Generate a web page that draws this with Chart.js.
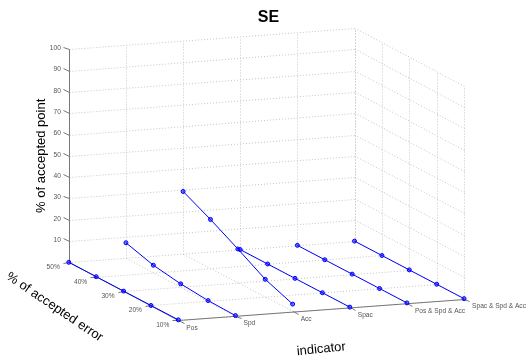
<!DOCTYPE html>
<html>
<head>
<meta charset="utf-8">
<script src="https://cdn.jsdelivr.net/npm/chart.js@4"></script>
<style>
  html, body { margin: 0; padding: 0; background: #fff; overflow: hidden; }
  canvas { display: block; }
</style>
</head>
<body>
<canvas id="myChart" width="529" height="360"></canvas>
<script>
// categories on the two floor axes, z ticks
const indicators = ['Pos', 'Spd', 'Acc', 'Spac', 'Pos & Spd & Acc', 'Spac & Spd & Acc'];
const errorLevels = [10, 20, 30, 40, 50];
const errorLabels = ['10%', '20%', '30%', '40%', '50%'];
const zTicks = [10, 20, 30, 40, 50, 60, 70, 80, 90, 100];

// % of accepted point, one value per error level (10% .. 50%)
const posVals = [0, 0, 0, 0, 0];
const spdVals = [0, 0.3, 1.4, 3.4, 7.2];
const accVals = [3.4, 8.3, 15.8, 22.9, 29.3];
const spacVals = [0, 0, 0, 0, 0];
const psaVals = [0, 0, 0, 0, 0];
const ssaVals = [0, 0, 0, 0, 0];
const seriesVals = [posVals, spdVals, accVals, spacVals, psaVals, ssaVals];

// view like matlab view(az, el), orthographic
const AZ = -20.6 * Math.PI / 180;
const EL = 11.45 * Math.PI / 180;
const BOX = [1, 1.02, 0.716];

function proj(i, e, z) {
  const X = i / (indicators.length - 1) * BOX[0];
  const Y = (e - 10) / 40 * BOX[1];
  const Z = z / 100 * BOX[2];
  return {
    x: Math.cos(AZ) * X + Math.sin(AZ) * Y,
    y: -Math.sin(EL) * Math.sin(AZ) * X + Math.sin(EL) * Math.cos(AZ) * Y + Math.cos(EL) * Z
  };
}

// px per box unit, where the (Pos, 10%, 0) corner sits, and the chart area
const K = 308.2;
const ORIGIN = [180, 324.3];
const AREA = { left: 8, right: 529, top: 31.2, bottom: 360 };

const axes3d = {
  id: 'axes3d',
  beforeDatasetsDraw(chart) {
    const ctx = chart.ctx, sx = chart.scales.x, sy = chart.scales.y;
    const P = (i, e, z) => {
      const q = proj(i, e, z);
      return [sx.getPixelForValue(q.x), sy.getPixelForValue(q.y)];
    };
    const line = (a, b) => {
      ctx.beginPath();
      ctx.moveTo(Math.round(a[0]) + 0.5, Math.round(a[1]) + 0.5);
      ctx.lineTo(Math.round(b[0]) + 0.5, Math.round(b[1]) + 0.5);
      ctx.stroke();
    };
    const tick = (a, toward, len) => {
      const dx = toward[0] - a[0], dy = toward[1] - a[1], n = Math.hypot(dx, dy);
      line(a, [a[0] + dx / n * len, a[1] + dy / n * len]);
    };
    const last = indicators.length - 1, eMin = 10, eMax = 50;

    ctx.save();
    // dotted grid: back wall, right wall, floor
    ctx.strokeStyle = '#c4c4c4';
    ctx.lineWidth = 1;
    ctx.setLineDash([1, 2]);
    indicators.forEach((_, i) => line(P(i, eMax, 0), P(i, eMax, 100)));
    zTicks.forEach(z => line(P(0, eMax, z), P(last, eMax, z)));
    errorLevels.forEach(e => line(P(last, e, 0), P(last, e, 100)));
    zTicks.forEach(z => line(P(last, eMin, z), P(last, eMax, z)));
    indicators.forEach((_, i) => line(P(i, eMin, 0), P(i, eMax, 0)));
    errorLevels.forEach(e => line(P(0, e, 0), P(last, e, 0)));

    // axis lines + ticks
    ctx.setLineDash([]);
    ctx.strokeStyle = '#777';
    line(P(0, eMax, 0), P(0, eMax, 100));
    line(P(0, eMin, 0), P(last, eMin, 0));
    line(P(0, eMin, 0), P(0, eMax, 0));
    zTicks.forEach(z => tick(P(0, eMax, z), P(0, eMax + 10, z), 6));
    errorLevels.forEach(e => tick(P(0, e, 0), P(-1, e, 0), 6));
    indicators.forEach((_, i) => tick(P(i, eMin, 0), P(i, 0, 0), 6));

    // tick labels
    ctx.fillStyle = '#555';
    ctx.font = '6.6px "Liberation Sans", Arial, sans-serif';
    ctx.textBaseline = 'middle';
    ctx.textAlign = 'right';
    zTicks.forEach(z => {
      const a = P(0, eMax, z);
      ctx.fillText(String(z), a[0] - 8, a[1] - 1);
    });
    errorLevels.forEach((e, j) => {
      const a = P(0, e, 0);
      ctx.fillText(errorLabels[j], a[0] - 9, a[1] + 5);
    });
    ctx.textAlign = 'left';
    indicators.forEach((name, i) => {
      const a = P(i, eMin, 0);
      ctx.fillText(name, a[0] + 8, a[1] + 8);
    });

    // axis titles
    ctx.fillStyle = '#000';
    ctx.font = '13px "Liberation Sans", Arial, sans-serif';
    ctx.textAlign = 'center';
    const drawRot = (text, a, dx, dy, deg) => {
      ctx.save();
      ctx.translate(a[0] + dx, a[1] + dy);
      ctx.rotate(deg * Math.PI / 180);
      ctx.fillText(text, 0, 0);
      ctx.restore();
    };
    drawRot('% of accepted point', P(0, eMax, 50), -27, 0, -90);
    drawRot('% of accepted error', P(0, 30, 0), -69, 16, 34);
    drawRot('indicator', P(last / 2, eMin, 0), 0, 40, -6);
    ctx.restore();
  }
};

const datasets = indicators.map((name, i) => ({
  label: name,
  data: errorLevels.map((e, j) => proj(i, e, seriesVals[i][j])),
  showLine: true,
  borderColor: '#0000ff',
  borderWidth: 1,
  backgroundColor: 'rgba(0, 0, 255, 0.55)',
  pointBorderColor: '#0000ff',
  pointRadius: 2,
  pointBorderWidth: 1,
  clip: false
}));

Chart.defaults.font.family = '"Liberation Sans", Arial, sans-serif';

const ctx = document.getElementById('myChart').getContext('2d');
const chart = new Chart(ctx, {
  type: 'scatter',
  data: { datasets: datasets },
  options: {
    responsive: false,
    animation: false,
    devicePixelRatio: 1,
    layout: { padding: { left: AREA.left, top: 0, right: 0, bottom: 0 } },
    scales: {
      x: {
        type: 'linear', display: false,
        min: (AREA.left - ORIGIN[0]) / K,
        max: (AREA.right - ORIGIN[0]) / K
      },
      y: {
        type: 'linear', display: false,
        min: (ORIGIN[1] - AREA.bottom) / K,
        max: (ORIGIN[1] - AREA.top) / K
      }
    },
    plugins: {
      legend: { display: false },
      tooltip: { enabled: false },
      title: {
        display: true,
        text: 'SE',
        color: '#000',
        font: { size: 16, weight: 'bold' },
        padding: { top: 8, bottom: 4 }
      }
    }
  },
  plugins: [axes3d]
});
</script>
</body>
</html>
